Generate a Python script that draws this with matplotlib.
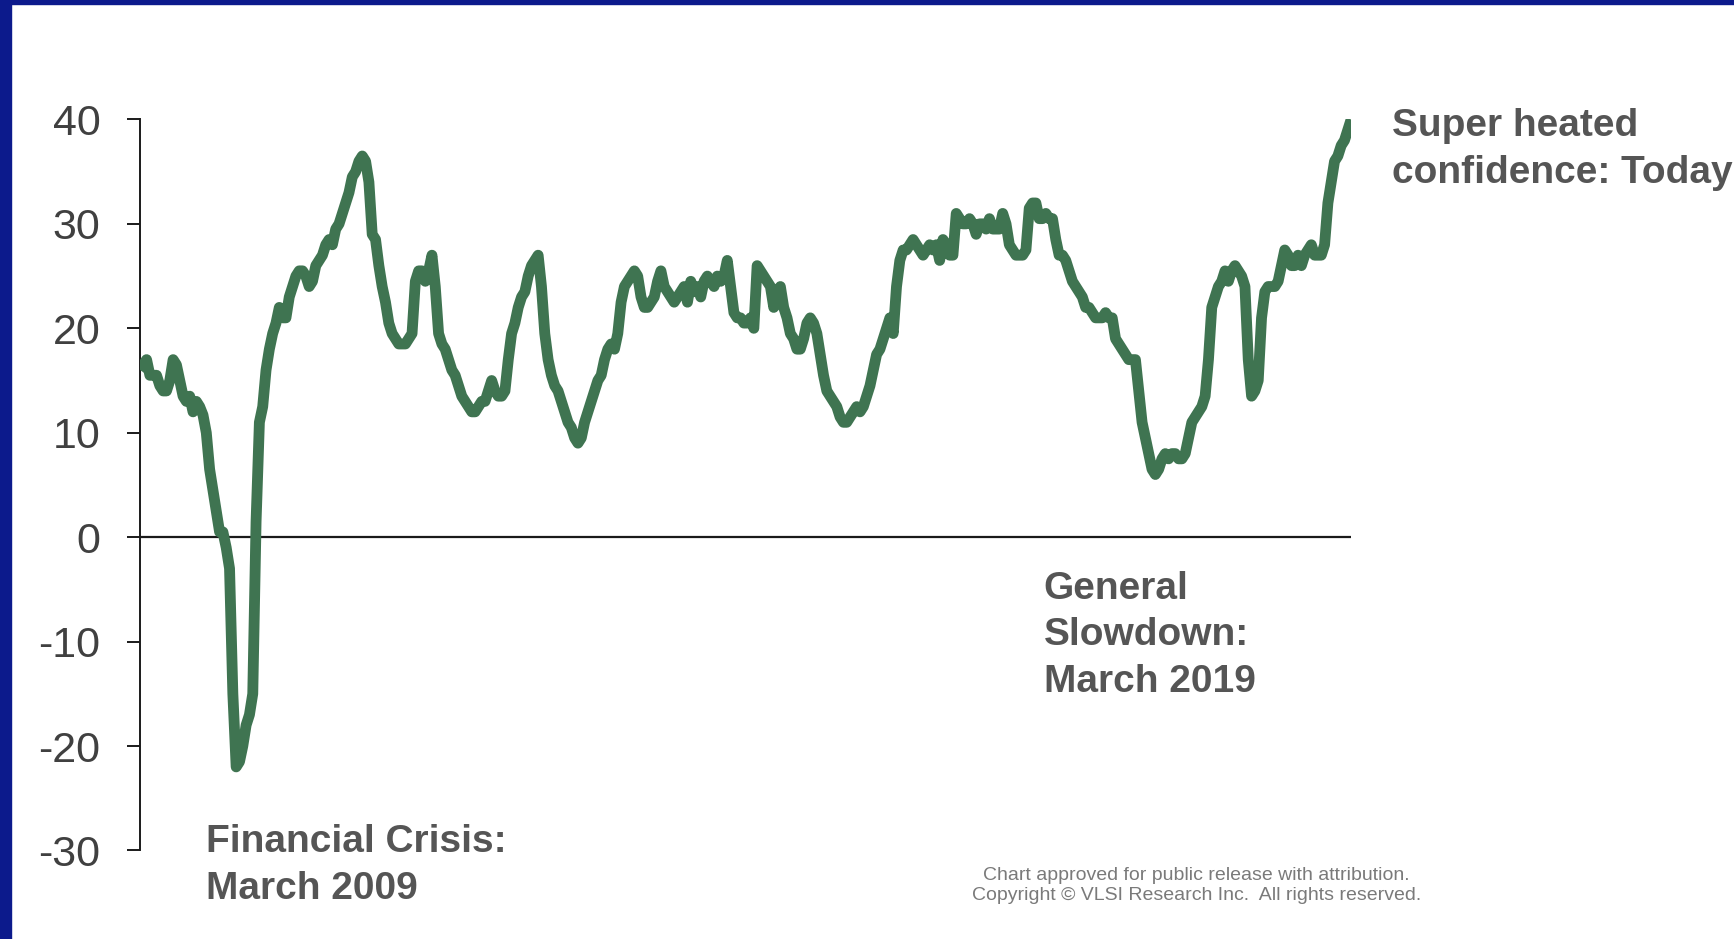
import numpy as np
import matplotlib
matplotlib.use("Agg")
import matplotlib.pyplot as plt
from matplotlib.patches import Rectangle

# confidence index, one reading per step (roughly two weeks apart)
confidence = [
    16, 16.5, 17, 15.5, 15.5, 15.5, 14.5, 14, 14, 15,
    17, 16.5, 15, 13.5, 13, 13.5, 12, 13, 12.5, 11.7,
    10, 6.5, 4.5, 2.5, 0.5, 0.5, -1, -3, -15, -22,
    -21.5, -20, -18, -17, -15, 1.5, 11, 12.5, 16, 18,
    19.5, 20.5, 22, 21, 21, 23, 24, 25, 25.5, 25.5,
    25, 24, 24.5, 26, 26.5, 27, 28, 28.5, 28, 29.5,
    30, 31, 32, 33, 34.5, 35, 36, 36.5, 36, 34,
    29, 28.5, 26, 24, 22.5, 20.5, 19.5, 19, 18.5, 18.5,
    18.5, 19, 19.5, 24.5, 25.5, 25.5, 24.5, 25.5, 27, 24,
    19.5, 18.5, 18, 17, 16, 15.5, 14.5, 13.5, 13, 12.5,
    12, 12, 12.5, 13, 13, 14, 15, 14, 13.5, 13.5,
    14, 17, 19.5, 20.5, 22, 23, 23.5, 25, 26, 26.5,
    27, 24, 19.5, 17, 15.5, 14.5, 14, 13, 12, 11,
    10.5, 9.5, 9, 9.5, 11, 12, 13, 14, 15, 15.5,
    17, 18, 18.5, 18, 19.5, 22.5, 24, 24.5, 25, 25.5,
    25, 23, 22, 22, 22.5, 23, 24.5, 25.5, 24, 23.5,
    23, 22.5, 23, 23.5, 24, 22.5, 24.5, 23.5, 24, 23,
    24.5, 25, 24.5, 24, 25, 24.5, 25, 26.5, 24, 21.5,
    21, 21, 20.5, 20.5, 21, 20, 26, 25.5, 25, 24.5,
    24, 22, 23.5, 24, 22, 21, 19.5, 19, 18, 18,
    19, 20.5, 21, 20.5, 19.5, 17.5, 15.5, 14, 13.5, 13,
    12.5, 11.5, 11, 11, 11.5, 12, 12.5, 12, 12.5, 13.5,
    14.5, 16, 17.5, 18, 19, 20, 21, 19.5, 24, 26.5,
    27.5, 27.5, 28, 28.5, 28, 27.5, 27, 27.5, 28, 27.5,
    28, 26.5, 28.5, 28, 27, 27, 31, 30.5, 30, 30,
    30.5, 30, 29, 30, 30, 29.5, 30.5, 29.5, 29.5, 29.5,
    31, 30, 28, 27.5, 27, 27, 27, 27.5, 31.5, 32,
    32, 30.5, 30.5, 31, 30.5, 30.5, 28.5, 27, 27, 26.5,
    25.5, 24.5, 24, 23.5, 23, 22, 22, 21.5, 21, 21,
    21, 21.5, 21, 21, 19, 18.5, 18, 17.5, 17, 17,
    17, 14, 11, 9.5, 8, 6.5, 6, 6.5, 7.5, 8,
    7.5, 8, 8, 7.5, 7.5, 8, 9.5, 11, 11.5, 12,
    12.5, 13.5, 17, 22, 23, 24, 24.5, 25.5, 24.5, 25.5,
    26, 25.5, 25, 24, 17, 13.5, 14, 15, 21, 23.5,
    24, 24, 24, 24.5, 26, 27.5, 27, 26, 26, 27,
    26, 27, 27.5, 28, 27, 27, 27, 28, 32, 34,
    36, 36.5, 37.5, 38, 39, 40,
]
y_ticks = [-30, -20, -10, 0, 10, 20, 30, 40]

notes = [
    ("Super heated\nconfidence: Today", 0.8025, 0.8405),
    ("Financial Crisis:\nMarch 2009", 0.1186, 0.0785),
    ("General\nSlowdown:\nMarch 2019", 0.602, 0.3235),
]
credit = "Chart approved for public release with attribution.\nCopyright \u00a9 VLSI Research Inc.  All rights reserved."

plt.rcParams["font.family"] = ["Liberation Sans", "DejaVu Sans"]

fig = plt.figure(figsize=(17.34, 9.39), dpi=100)
fig.patch.set_facecolor("white")

# dark blue frame on top and left of the slide
fig.patches.append(Rectangle((0, 0.9953), 1, 0.0047, transform=fig.transFigure, color="#0c1a8c", zorder=0))
fig.patches.append(Rectangle((0, 0), 0.0063, 1, transform=fig.transFigure, color="#0c1a8c", zorder=0))

ax = fig.add_axes([0.0807, 0.0943, 0.6985, 0.7785])
x = np.arange(len(confidence))
ax.plot(x, confidence, color="#3f7451", lw=7.8, solid_joinstyle="round", solid_capstyle="butt", zorder=3)
ax.axhline(0, color="#1a1a1a", lw=1.6, zorder=2)

ax.set_xlim(0, len(confidence) - 1)
ax.set_ylim(-30, 40)
for s in ["top", "right", "bottom"]:
    ax.spines[s].set_visible(False)
ax.spines["left"].set_color("#1a1a1a")
ax.spines["left"].set_linewidth(1.4)
ax.set_xticks([])
ax.set_yticks(y_ticks)
ax.set_yticklabels([str(t) for t in y_ticks])
ax.tick_params(axis="y", length=9.5, width=1.4, color="#1a1a1a", pad=19,
               labelsize=31, labelcolor="#404040")

for txt, fx, fy in notes:
    fig.text(fx, fy, txt, fontsize=28, fontweight="bold", color="#555555",
             ha="left", va="center", linespacing=1.38)

fig.text(0.69, 0.057, credit, fontsize=14, color="#7a7a7a", ha="center", va="center", linespacing=1.3)

fig.savefig("out.png", dpi=100, facecolor="white")
